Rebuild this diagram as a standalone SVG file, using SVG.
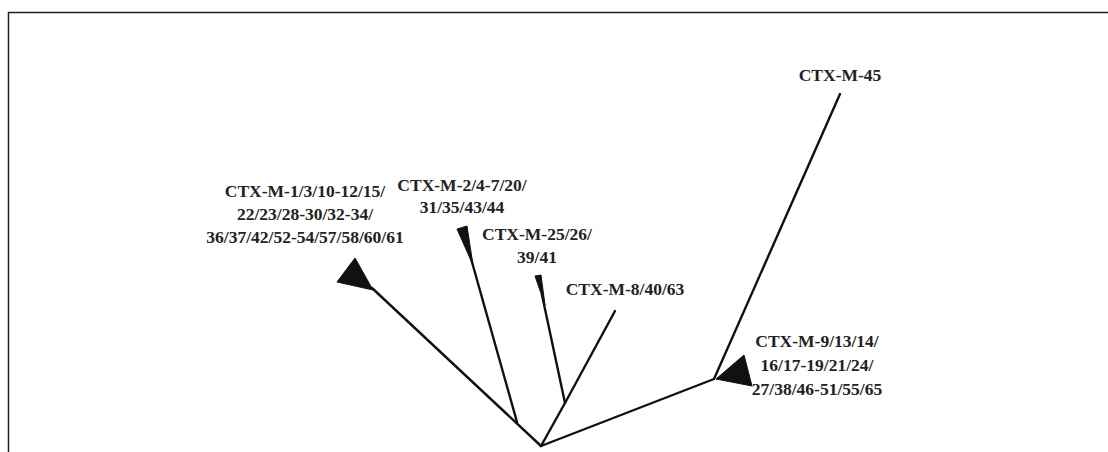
<svg xmlns="http://www.w3.org/2000/svg" width="1108" height="452" viewBox="0 0 1108 452">
<style>
.lbl{font-family:"Liberation Serif","Times New Roman",serif;font-weight:bold;font-size:17.5px;fill:#222;text-anchor:middle}
.br{stroke:#111;stroke-width:2.4;fill:none;stroke-linecap:round}
.tri{fill:#111;stroke:#111;stroke-width:1}
</style>
<rect width="1108" height="452" fill="#fff"/>
<path d="M8.5 452 V12.5 H1108" fill="none" stroke="#222" stroke-width="1.5"/>
<g id="connectors">
<path class="br" d="M541 446 L372 288"/>
<path class="br" d="M517 422 L470 255"/>
<path class="br" d="M541 446 L565 403 L615 311"/>
<path class="br" d="M565 403 L542 295"/>
<path class="br" d="M541 446 L714 379"/>
<path class="br" d="M714 379 L840 94"/>
</g>
<g id="node-ctxm1">
<polygon class="tri" points="355,258 337,282 373,290"/>
<text class="lbl" x="305" y="197">CTX-M-1/3/10-12/15/</text>
<text class="lbl" x="305" y="220">22/23/28-30/32-34/</text>
<text class="lbl" x="305" y="243">36/37/42/52-54/57/58/60/61</text>
</g>
<g id="node-ctxm2">
<polygon class="tri" points="457,229 467,226 473,265"/>
<text class="lbl" x="462" y="191">CTX-M-2/4-7/20/</text>
<text class="lbl" x="462" y="213">31/35/43/44</text>
</g>
<g id="node-ctxm25">
<polygon class="tri" points="535,276 541,275 545,305"/>
<text class="lbl" x="537" y="240">CTX-M-25/26/</text>
<text class="lbl" x="537" y="263">39/41</text>
</g>
<g id="node-ctxm8">
<text class="lbl" x="625" y="295">CTX-M-8/40/63</text>
</g>
<g id="node-ctxm9">
<polygon class="tri" points="716,379 744,355 752,386"/>
<text class="lbl" x="817" y="347">CTX-M-9/13/14/</text>
<text class="lbl" x="817" y="371">16/17-19/21/24/</text>
<text class="lbl" x="817" y="395">27/38/46-51/55/65</text>
</g>
<g id="node-ctxm45">
<text class="lbl" x="840" y="81">CTX-M-45</text>
</g>
</svg>
